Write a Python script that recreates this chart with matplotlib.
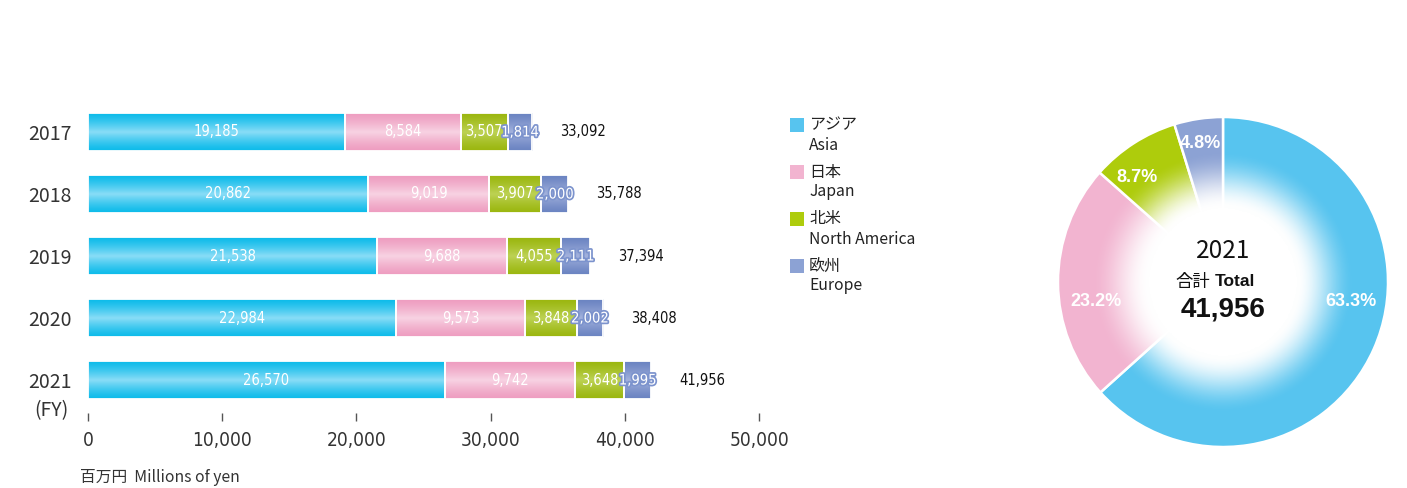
import matplotlib
matplotlib.use('Agg')
import matplotlib.pyplot as plt
import matplotlib.patheffects as pe
import numpy as np
from matplotlib import font_manager
from matplotlib.patches import Rectangle
from matplotlib.colors import to_rgb

# data
years = ['2017', '2018', '2019', '2020', '2021']
asia = [19185, 20862, 21538, 22984, 26570]
japan = [8584, 9019, 9688, 9573, 9742]
north_america = [3507, 3907, 4055, 3848, 3648]
europe = [1814, 2000, 2111, 2002, 1995]
totals = [33092, 35788, 37394, 38408, 41956]

regions_jp = ['アジア', '日本', '北米', '欧州']
regions_en = ['Asia', 'Japan', 'North America', 'Europe']

pie_year = '2021'
pie_values = [26570, 9742, 3648, 1995]
pie_total = 41956
pie_labels = ['63.3%', '23.2%', '8.7%', '4.8%']

xticks = [0, 10000, 20000, 30000, 40000, 50000]

# styles
bar_edge = ['#0DBBEA', '#EE9DC0', '#9BB70F', '#6B84C2']
bar_mid = ['#8ADDF7', '#F8D3E3', '#BDD255', '#A3B2DD']
flat_cols = ['#57C4EF', '#F2B4D0', '#AECC0C', '#8CA2D4']
jp = ['Noto Sans CJK JP', 'DejaVu Sans']
bold = ['Liberation Sans', 'DejaVu Sans']

# pick a narrow face for the numbers if one is around
flist = font_manager.fontManager.ttflist
names = {f.name for f in flist}
num_font = dict(family=['Liberation Sans', 'DejaVu Sans'])
if 'Liberation Sans Narrow' in names:
    num_font = dict(family=['Liberation Sans Narrow', 'DejaVu Sans'])
elif 'DejaVu Sans Condensed' in names:
    num_font = dict(family=['DejaVu Sans Condensed', 'DejaVu Sans'])
elif any(f.name == 'DejaVu Sans' and 'condensed' in str(f.stretch) for f in flist):
    num_font = dict(family=['DejaVu Sans'], fontstretch='condensed')

W, H = 1407, 488
fig = plt.figure(figsize=(W / 100, H / 100), dpi=100)
renderer = fig.canvas.get_renderer()

def fit_size(sample, target_px, **kw):
    t = fig.text(0, 0, sample, fontsize=10, **kw)
    w = t.get_window_extent(renderer).width
    t.remove()
    return 10 * target_px / w

lab_size = fit_size('19,185', 46, **num_font)
tick_size = fit_size('40,000', 60, **num_font)

def fx(px):
    return px / W

def fy(px):
    return 1 - px / H

# ---- stacked bars ----
ax = fig.add_axes([fx(88), fy(413), fx(759) - fx(88), (413 - 100) / H])
series = [asia, japan, north_america, europe]
ypos = [len(years) - 1 - i for i in range(len(years))]
bh = 0.61

def gradient(edge, mid, n=64):
    e = np.array(to_rgb(edge))
    m = np.array(to_rgb(mid))
    t = np.linspace(0, 1, n)
    w = (1 - np.abs(2 * t - 1)) ** 1.3
    return (e[None, :] + (m - e)[None, :] * w[:, None])[:, None, :]

for i, y in enumerate(ypos):
    left = 0
    for k, s in enumerate(series):
        v = s[i]
        ax.imshow(gradient(bar_edge[k], bar_mid[k]), extent=(left, left + v, y - bh / 2, y + bh / 2),
                  aspect='auto', interpolation='bicubic', zorder=2)
        ax.add_patch(Rectangle((left, y - bh / 2), v, bh, fill=False, edgecolor='white', lw=1.3, zorder=3))
        txt = ax.text(left + v / 2, y, f'{v:,}', ha='center', va='center', color='white',
                      fontsize=lab_size, zorder=4, **num_font)
        if k == 3:
            txt.set_path_effects([pe.withStroke(linewidth=2.5, foreground='#7C93CD')])
        left += v
    ax.annotate(f'{totals[i]:,}', xy=(totals[i], y), xytext=(20, 0), textcoords='offset points',
                ha='left', va='center', fontsize=lab_size, color='#111111', **num_font)

ax.set_xlim(0, 50000)
ax.set_ylim(-0.532, 4.516)
ax.set_xticks(xticks)
ax.set_xticklabels([f'{t:,}' for t in xticks], fontsize=tick_size, color='#333333', **num_font)
ax.set_yticks(ypos)
ax.set_yticklabels(years, family=jp, fontsize=14, color='#333333')
ax.tick_params(axis='y', length=0, pad=12)
ax.tick_params(axis='x', length=6, width=1, color='#555555', pad=7)
for sp in ax.spines.values():
    sp.set_visible(False)
ax.patch.set_visible(False)

fig.text(fx(68), fy(411), '(FY)', ha='right', va='center', fontsize=14, family=jp, color='#333333')
fig.text(fx(80), fy(478), '百万円  Millions of yen', ha='left', va='center', fontsize=11.3,
         family=jp, color='#333333')

# ---- legend ----
for k in range(4):
    yc = 125 + 47 * k
    fig.add_artist(Rectangle((fx(790), fy(yc + 7)), fx(14), 14 / H, transform=fig.transFigure,
                             facecolor=flat_cols[k], edgecolor='none'))
    fig.text(fx(809), fy(yc), regions_jp[k], ha='left', va='center', fontsize=11.5, family=jp, color='#222222')
    fig.text(fx(809), fy(yc + 20), regions_en[k], ha='left', va='center', fontsize=11.3, family=jp,
             color='#222222')

# ---- donut ----
cx, cy, r = 1223, 282, 165
ax2 = fig.add_axes([fx(cx - r), fy(cy + r), fx(2 * r), 2 * r / H])
ax2.pie(pie_values, colors=flat_cols, startangle=90, counterclock=False, radius=1,
        wedgeprops=dict(edgecolor='white', linewidth=1.8))
n = 400
g = np.linspace(-1, 1, n)
xx, yy = np.meshgrid(g, g)
rr = np.sqrt(xx ** 2 + yy ** 2)
t = np.clip((rr - 0.45) / (0.80 - 0.45), 0, 1)
alpha = 1 - (3 * t ** 2 - 2 * t ** 3)
alpha[rr > 1.02] = 0
img = np.ones((n, n, 4))
img[..., 3] = alpha
ax2.imshow(img, extent=(-1, 1, -1, 1), zorder=5, interpolation='bilinear')
ax2.set_xlim(-1, 1)
ax2.set_ylim(-1, 1)
ax2.axis('off')

label_pos = [(0.776, -0.12), (-0.77, -0.12), (-0.52, 0.636), (-0.14, 0.84)]
for lab, (px, py) in zip(pie_labels, label_pos):
    ax2.text(px, py, lab, ha='center', va='center', color='white', fontsize=13, fontweight='bold',
             family=bold, zorder=6)

ax2.text(0, 0.185, pie_year, ha='center', va='center', fontsize=17.5, family=jp, color='#111111', zorder=6)
ax2.text(-0.075, 0.0, '合計', ha='right', va='center', fontsize=12.5, family=jp, color='#111111', zorder=6)
ax2.text(-0.05, 0.0, 'Total', ha='left', va='center', fontsize=12.5, fontweight='bold',
         family=bold, color='#111111', zorder=6)
ax2.text(0, -0.165, f'{pie_total:,}', ha='center', va='center', fontsize=20, fontweight='bold',
         family=bold, color='#111111', zorder=6)

fig.savefig('out.png', dpi=100)
